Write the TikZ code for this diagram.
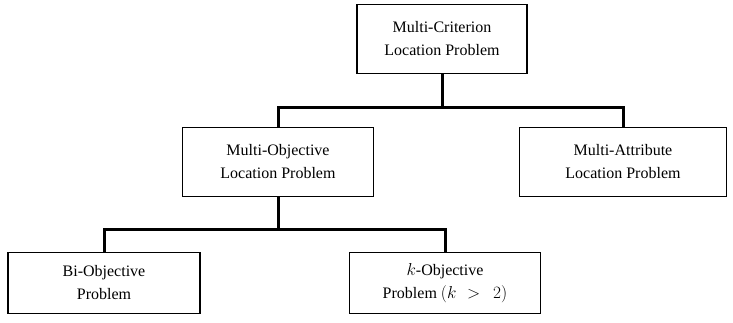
\documentclass[tikz,border=0pt]{standalone}
\usepackage{fontspec}
\setmainfont{Liberation Serif}
\usetikzlibrary{calc}
\tikzset{
  cbox/.style={draw, line width=1.3pt, align=center, inner sep=0pt,
    font=\fontsize{16}{23}\selectfont},
  conn/.style={line width=3pt}
}

\begin{document}
\begin{tikzpicture}[x=1pt, y=1pt]
\useasboundingbox (0,0) rectangle (733,-323);
% top level
\node[cbox, minimum width=170, minimum height=69] (mcl) at (442,-39)
  {Multi-Criterion\\Location Problem};
% second level
\node[cbox, minimum width=191, minimum height=69] (mol) at (278,-162)
  {Multi-Objective\\Location Problem};
\node[cbox, minimum width=207, minimum height=69] (mal) at (623,-162)
  {Multi-Attribute\\Location Problem};
% third level
\node[cbox, minimum width=192, minimum height=61] (bio) at (104,-283)
  {Bi-Objective\\Problem};
\node[cbox, minimum width=191, minimum height=61] (kob) at (445,-283)
  {$k$-Objective\\Problem $(k\hspace{6pt}>\hspace{8pt}2)$};
% tree connectors
\draw[conn] (mcl.south) -- ++(0,-33) -| (mol.north);
\draw[conn] (mcl.south) -- ++(0,-33) -| (mal.north);
\draw[conn] (mol.south) -- ++(0,-32) -| (bio.north);
\draw[conn] (mol.south) -- ++(0,-32) -| (kob.north);
\end{tikzpicture}
\end{document}
